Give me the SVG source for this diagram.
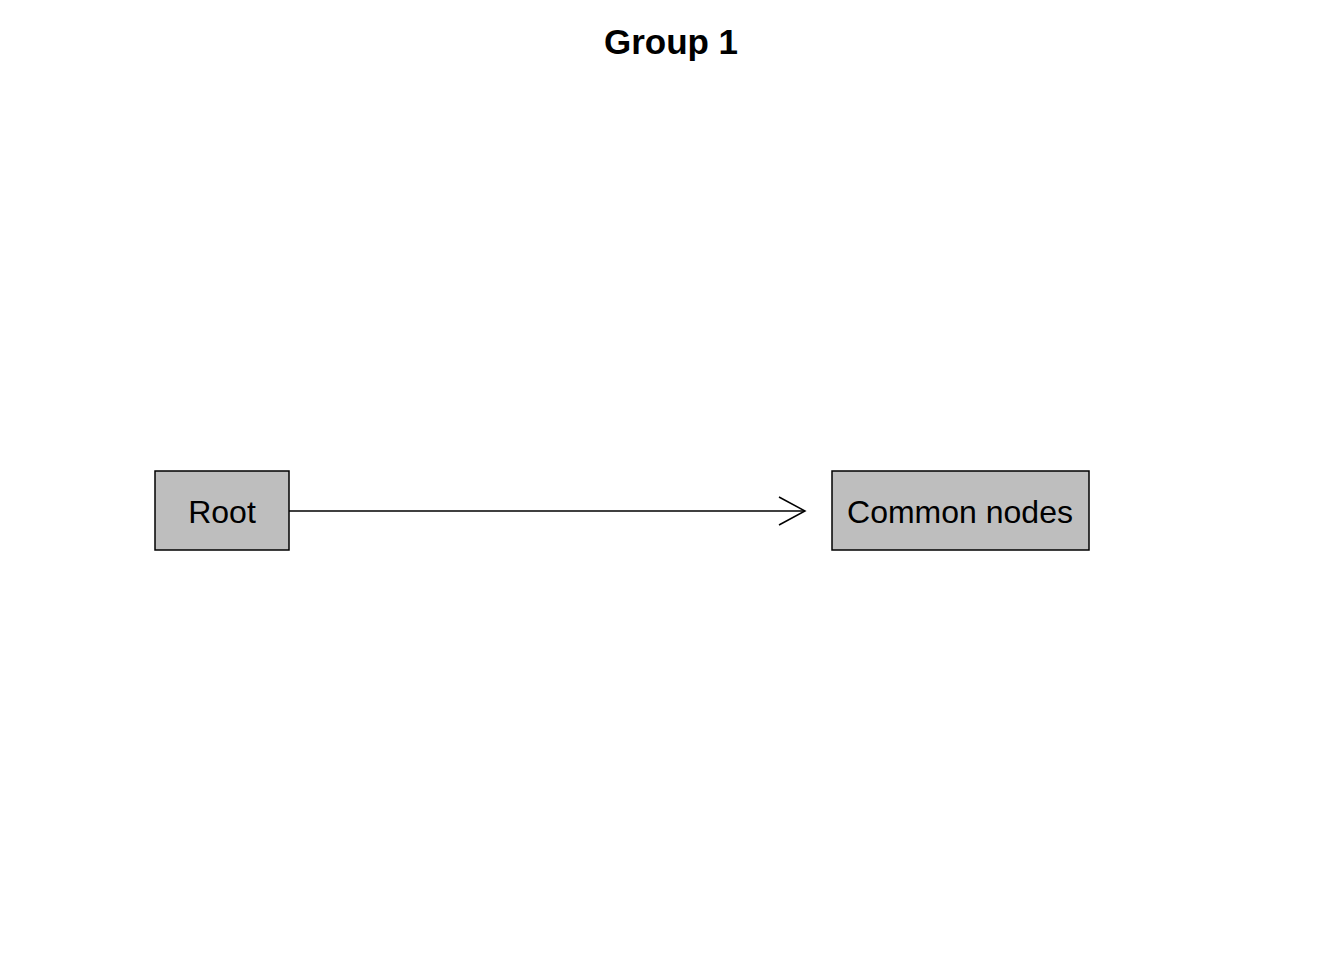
<svg xmlns="http://www.w3.org/2000/svg" width="1344" height="960" viewBox="0 0 1344 960">
<style>
.box{fill:#bebebe;stroke:#000;stroke-width:1.5}
.lbl{font-family:"Liberation Sans",Arial,sans-serif;font-size:32px;text-anchor:middle;fill:#000}
.title{font-family:"Liberation Sans",Arial,sans-serif;font-size:35px;font-weight:bold;text-anchor:middle;fill:#000}
.edge{stroke:#000;stroke-width:1.5;fill:none}
</style>
<rect width="1344" height="960" fill="#fff"/>
<text class="title" x="671" y="54">Group 1</text>
<g id="connectors">
<line class="edge" x1="289" y1="511" x2="805" y2="511"/>
<polyline class="edge" points="779,497 805,511 779,525"/>
</g>
<g id="node-root">
<rect class="box" x="155" y="471" width="134" height="79"/>
<text class="lbl" x="222" y="523">Root</text>
</g>
<g id="node-common">
<rect class="box" x="832" y="471" width="257" height="79"/>
<text class="lbl" x="960" y="523">Common nodes</text>
</g>
</svg>
